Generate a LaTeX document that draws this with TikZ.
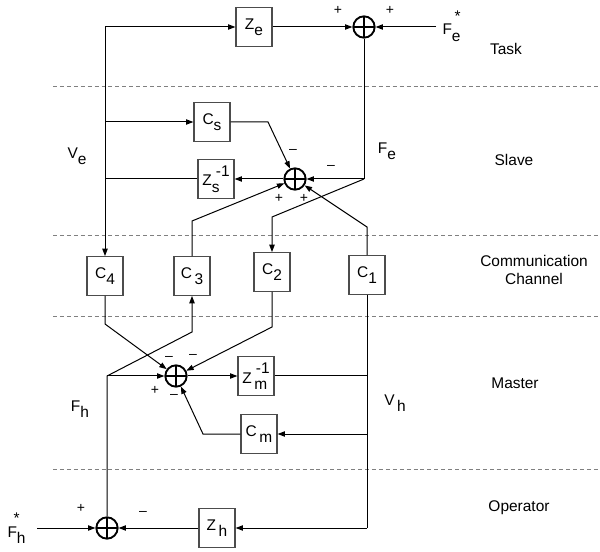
\documentclass[tikz,border=0pt]{standalone}
\usepackage{fontspec}
\setmainfont{Liberation Sans}
\usetikzlibrary{arrows.meta}

% lowered / raised indices, set at full size
\newcommand{\lo}[1]{\raisebox{-0.4em}{#1}}
\newcommand{\hi}[1]{\raisebox{0.62em}{#1}}
\newcommand{\st}{\raisebox{0.9em}{*}}

\tikzset{
  blk/.style={draw=black!70, line width=0.9pt, minimum width=27pt, minimum height=29pt, inner sep=0pt},
  sumnode/.style={circle, draw, line width=1.4pt, minimum size=16pt, inner sep=0pt,
    path picture={\draw[line width=1.4pt]
      (path picture bounding box.north) -- (path picture bounding box.south)
      (path picture bounding box.west) -- (path picture bounding box.east);}},
  sig/.style={-{Triangle[length=5.5pt,width=4pt]}},
  lane/.style={gray, line width=0.6pt, dash pattern=on 3pt off 2.2pt},
  sgn/.style={font=\fontsize{10.5}{12}\selectfont, inner sep=0pt},
}

\begin{document}
\begin{tikzpicture}[x=0.75pt, y=-0.75pt, line width=0.75pt, font=\fontsize{11.6}{14}\selectfont]
  \useasboundingbox (0,0) rectangle (600,552);

  % lane separators and lane names
  \foreach \ly in {86,235,316,469}
    \draw[lane] (53,\ly) -- (600,\ly);
  \node (task) at (506,49) {Task};
  \node (slave) at (514,160) {Slave};
  \node[align=center] (comm) at (534,270) {Communication\\Channel};
  \node (master) at (515,383) {Master};
  \node (oper) at (519,508) {Operator};

  % blocks
  \node[blk] (ze) at (254,27) {Z\lo{e}};
  \node[blk] (cs) at (212,122) {C\lo{s}};
  \node[blk] (zs) at (216,179) {Z\rlap{\lo{s}}\hspace{3pt}\hi{-1}};
  \node[blk] (c4) at (105,276) {C\lo{4}};
  \node[blk] (c3) at (192,276) {C\,\lo{3}};
  \node[blk] (c2) at (272,272) {C\lo{2}};
  \node[blk] (c1) at (367,275) {C\lo{1}};
  \node[blk] (zm) at (256,376) {Z\rlap{\,\lo{m}}\hspace{3pt}\hi{-1}};
  \node[blk] (cm) at (259,434) {C\,\lo{m}};
  \node[blk] (zh) at (217,528) {Z\,\lo{h}};

  % summing junctions
  \node[sumnode] (st) at (364,27) {};
  \node[sumnode] (ss) at (295,179) {};
  \node[sumnode] (sm) at (176,376) {};
  \node[sumnode] (so) at (107,528) {};

  % bends of the signal lines
  \coordinate (vtop) at (105,27);
  \coordinate (vcs) at (105,122);
  \coordinate (vzs) at (105,179);
  \coordinate (csk) at (268,122);
  \coordinate (fein) at (436,27);
  \coordinate (fek) at (364,179);
  \coordinate (c2up) at (272,217);
  \coordinate (c3up) at (192,221);
  \coordinate (c1up) at (367,227);
  \coordinate (c4dn) at (105,324);
  \coordinate (c2dn) at (272,327);
  \coordinate (c3dn) at (192,332);
  \coordinate (fhk) at (107,376);
  \coordinate (vzm) at (367,376);
  \coordinate (vcm) at (367,434);
  \coordinate (vzh) at (367,528);
  \coordinate (cmk) at (203,434);
  \coordinate (fhin) at (37,528);

  % task
  \draw[sig] (vtop) -- (ze);
  \draw[sig] (ze) -- (st);
  \draw[sig] (fein) -- (st);
  \draw[sig] (vtop) -- (c4);

  % slave
  \draw[sig] (vcs) -- (cs);
  \draw[sig] (cs.east) -- (csk) -- (ss);
  \draw (st) -- (fek);
  \draw[sig] (fek) -- (ss);
  \draw[sig] (ss) -- (zs);
  \draw (zs) -- (vzs);
  \draw[sig] (fek) -- (c2up) -- (c2);
  \draw[sig] (c3) -- (c3up) -- (ss);
  \draw[sig] (c1) -- (c1up) -- (ss);

  % master
  \draw[sig] (c4) -- (c4dn) -- (sm);
  \draw[sig] (c2) -- (c2dn) -- (sm);
  \draw[sig] (so) -- (fhk) -- (c3dn) -- (c3);
  \draw[sig] (fhk) -- (sm);
  \draw[sig] (sm) -- (zm);
  \draw (zm) -- (vzm);
  \draw (c1) -- (vzh);
  \draw[sig] (vcm) -- (cm);
  \draw[sig] (cm) -- (cmk) -- (sm);

  % operator
  \draw[sig] (vzh) -- (zh);
  \draw[sig] (zh) -- (so);
  \draw[sig] (fhin) -- (so);

  % signal names
  \node[anchor=base west, inner sep=0pt] (fes) at (442,35) {F\rlap{\hspace{2pt}\st}\lo{e}};
  \node (ve) at (77,156) {V\lo{e}};
  \node (fe) at (387,151) {F\lo{e}};
  \node (fh) at (80,409) {F\lo{h}};
  \node (vh) at (395,403) {V\,\lo{h}};
  \node[anchor=base west, inner sep=0pt] (fhs) at (7,537) {F\llap{\st\hspace{-2pt}}\lo{h}};

  % signs at the junctions
  \foreach \px/\py/\s [count=\i] in {338/10/+, 390/10/+,
      293/151/\textendash, 331/167/\textendash, 279/198/+, 304/198/+,
      169/358/\textendash, 193/356/\textendash, 155/390/+, 174/396/\textendash,
      81/508/+, 143/513/\textendash}
    \node[sgn] (sg\i) at (\px,\py) {\s};
\end{tikzpicture}
\end{document}
